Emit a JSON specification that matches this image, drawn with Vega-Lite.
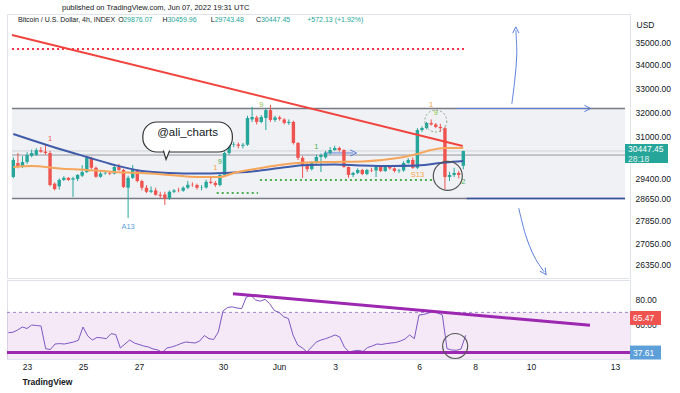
{
  "$schema": "https://vega.github.io/schema/vega-lite/v6.json",
  "background": "white",
  "padding": {"left": 5, "top": 3, "right": 0, "bottom": 0},
  "spacing": 0,
  "config": {"view": {"stroke": "#e0e3eb"}, "font": "Liberation Sans"},
  "datasets": {
    "candles": [
      {"t":"2022-05-22T08:00Z","o":29453,"h":30200,"l":29400,"c":30100,"r":53.6},
      {"t":"2022-05-22T12:00Z","o":29980,"h":30370,"l":29780,"c":29832,"r":54.0},
      {"t":"2022-05-22T16:00Z","o":29832,"h":30250,"l":29790,"c":30024,"r":55.8},
      {"t":"2022-05-22T20:00Z","o":30024,"h":30400,"l":29950,"c":30292,"r":58.2},
      {"t":"2022-05-23T00:00Z","o":30260,"h":30500,"l":30200,"c":30370,"r":57.0},
      {"t":"2022-05-23T04:00Z","o":30300,"h":30560,"l":30250,"c":30480,"r":59.8},
      {"t":"2022-05-23T08:00Z","o":30480,"h":30600,"l":30380,"c":30420,"r":59.4},
      {"t":"2022-05-23T12:00Z","o":30420,"h":30680,"l":30300,"c":30370,"r":59.0},
      {"t":"2022-05-23T16:00Z","o":30370,"h":30450,"l":29100,"c":29150,"r":40.7},
      {"t":"2022-05-23T20:00Z","o":29200,"h":29250,"l":28950,"c":29000,"r":40.0},
      {"t":"2022-05-24T00:00Z","o":29100,"h":29400,"l":28980,"c":29340,"r":44.5},
      {"t":"2022-05-24T04:00Z","o":29340,"h":29480,"l":29300,"c":29420,"r":44.8},
      {"t":"2022-05-24T08:00Z","o":29420,"h":29450,"l":29300,"c":29340,"r":44.5},
      {"t":"2022-05-24T12:00Z","o":29350,"h":29460,"l":28710,"c":29400,"r":45.3},
      {"t":"2022-05-24T16:00Z","o":29380,"h":29560,"l":29300,"c":29530,"r":46.1},
      {"t":"2022-05-24T20:00Z","o":29500,"h":29900,"l":29450,"c":29640,"r":47.5},
      {"t":"2022-05-25T00:00Z","o":29640,"h":30250,"l":29600,"c":30180,"r":58.2},
      {"t":"2022-05-25T04:00Z","o":30180,"h":30220,"l":29750,"c":29800,"r":51.0},
      {"t":"2022-05-25T08:00Z","o":29800,"h":29850,"l":29420,"c":29460,"r":47.7},
      {"t":"2022-05-25T12:00Z","o":29460,"h":29650,"l":29420,"c":29580,"r":49.8},
      {"t":"2022-05-25T16:00Z","o":29590,"h":29680,"l":29540,"c":29610,"r":49.4},
      {"t":"2022-05-25T20:00Z","o":29610,"h":29680,"l":29520,"c":29580,"r":48.8},
      {"t":"2022-05-26T00:00Z","o":29580,"h":29900,"l":29550,"c":29830,"r":52.8},
      {"t":"2022-05-26T04:00Z","o":29830,"h":29950,"l":29680,"c":29720,"r":52.2},
      {"t":"2022-05-26T08:00Z","o":29720,"h":29760,"l":29040,"c":29080,"r":41.3},
      {"t":"2022-05-26T12:00Z","o":29050,"h":29500,"l":27950,"c":29420,"r":44.5},
      {"t":"2022-05-26T16:00Z","o":29420,"h":29900,"l":29380,"c":29718,"r":47.7},
      {"t":"2022-05-26T20:00Z","o":29700,"h":29750,"l":29250,"c":29300,"r":45.3},
      {"t":"2022-05-27T00:00Z","o":29300,"h":29350,"l":28950,"c":29050,"r":44.1},
      {"t":"2022-05-27T04:00Z","o":29050,"h":29150,"l":28850,"c":28900,"r":42.9},
      {"t":"2022-05-27T08:00Z","o":28900,"h":29100,"l":28850,"c":28950,"r":42.1},
      {"t":"2022-05-27T12:00Z","o":28950,"h":29050,"l":28750,"c":28790,"r":40.5},
      {"t":"2022-05-27T16:00Z","o":28790,"h":28900,"l":28650,"c":28750,"r":39.7},
      {"t":"2022-05-27T20:00Z","o":28800,"h":28900,"l":28420,"c":28650,"r":37.7},
      {"t":"2022-05-28T00:00Z","o":28650,"h":28950,"l":28600,"c":28900,"r":41.3},
      {"t":"2022-05-28T04:00Z","o":28900,"h":29000,"l":28850,"c":28950,"r":42.1},
      {"t":"2022-05-28T08:00Z","o":28950,"h":29050,"l":28880,"c":28940,"r":43.3},
      {"t":"2022-05-28T12:00Z","o":28940,"h":29100,"l":28900,"c":29050,"r":44.9},
      {"t":"2022-05-28T16:00Z","o":29050,"h":29300,"l":29000,"c":29160,"r":46.1},
      {"t":"2022-05-28T20:00Z","o":29160,"h":29250,"l":29080,"c":29150,"r":45.7},
      {"t":"2022-05-29T00:00Z","o":29150,"h":29200,"l":28980,"c":29050,"r":45.3},
      {"t":"2022-05-29T04:00Z","o":29050,"h":29150,"l":28950,"c":29060,"r":46.9},
      {"t":"2022-05-29T08:00Z","o":29060,"h":29350,"l":29020,"c":29270,"r":51.3},
      {"t":"2022-05-29T12:00Z","o":29270,"h":29420,"l":29180,"c":29230,"r":48.8},
      {"t":"2022-05-29T16:00Z","o":29230,"h":29300,"l":29080,"c":29150,"r":48.1},
      {"t":"2022-05-29T20:00Z","o":29150,"h":29600,"l":29100,"c":29530,"r":54.2},
      {"t":"2022-05-30T00:00Z","o":29530,"h":30420,"l":29480,"c":30370,"r":71.1},
      {"t":"2022-05-30T04:00Z","o":30370,"h":30760,"l":30300,"c":30680,"r":74.0},
      {"t":"2022-05-30T08:00Z","o":30680,"h":30800,"l":30600,"c":30700,"r":74.4},
      {"t":"2022-05-30T12:00Z","o":30700,"h":30780,"l":30550,"c":30650,"r":73.5},
      {"t":"2022-05-30T16:00Z","o":30650,"h":30760,"l":30550,"c":30690,"r":73.0},
      {"t":"2022-05-30T20:00Z","o":30690,"h":31850,"l":30650,"c":31760,"r":82.4},
      {"t":"2022-05-31T00:00Z","o":31700,"h":32220,"l":31600,"c":31800,"r":83.5},
      {"t":"2022-05-31T04:00Z","o":31780,"h":31850,"l":31500,"c":31600,"r":80.0},
      {"t":"2022-05-31T08:00Z","o":31600,"h":31880,"l":31550,"c":31800,"r":79.0},
      {"t":"2022-05-31T12:00Z","o":31760,"h":32150,"l":31275,"c":32080,"r":80.5},
      {"t":"2022-05-31T16:00Z","o":32080,"h":32300,"l":31600,"c":31680,"r":77.0},
      {"t":"2022-05-31T20:00Z","o":31680,"h":31850,"l":31600,"c":31780,"r":71.5},
      {"t":"2022-06-01T00:00Z","o":31780,"h":31850,"l":31650,"c":31720,"r":70.0},
      {"t":"2022-06-01T04:00Z","o":31700,"h":31750,"l":31500,"c":31560,"r":66.5},
      {"t":"2022-06-01T08:00Z","o":31560,"h":31700,"l":31480,"c":31600,"r":65.0},
      {"t":"2022-06-01T12:00Z","o":31600,"h":31650,"l":30700,"c":30760,"r":51.8},
      {"t":"2022-06-01T16:00Z","o":30760,"h":30800,"l":30100,"c":30180,"r":43.7},
      {"t":"2022-06-01T20:00Z","o":30180,"h":30250,"l":29420,"c":29900,"r":41.3},
      {"t":"2022-06-02T00:00Z","o":29900,"h":30000,"l":29650,"c":29750,"r":38.1},
      {"t":"2022-06-02T04:00Z","o":29750,"h":30050,"l":29700,"c":29985,"r":42.1},
      {"t":"2022-06-02T08:00Z","o":29985,"h":30300,"l":29950,"c":30215,"r":46.1},
      {"t":"2022-06-02T12:00Z","o":30215,"h":30350,"l":29640,"c":30292,"r":47.7},
      {"t":"2022-06-02T16:00Z","o":30200,"h":30450,"l":30150,"c":30370,"r":48.8},
      {"t":"2022-06-02T20:00Z","o":30370,"h":30600,"l":30300,"c":30486,"r":50.2},
      {"t":"2022-06-03T00:00Z","o":30486,"h":30650,"l":30450,"c":30564,"r":51.8},
      {"t":"2022-06-03T04:00Z","o":30564,"h":30620,"l":30420,"c":30486,"r":50.2},
      {"t":"2022-06-03T08:00Z","o":30486,"h":30520,"l":29800,"c":29832,"r":42.1},
      {"t":"2022-06-03T12:00Z","o":29832,"h":29850,"l":29420,"c":29529,"r":38.1},
      {"t":"2022-06-03T16:00Z","o":29529,"h":29650,"l":29450,"c":29604,"r":38.9},
      {"t":"2022-06-03T20:00Z","o":29604,"h":29780,"l":29560,"c":29718,"r":39.4},
      {"t":"2022-06-04T00:00Z","o":29718,"h":29760,"l":29520,"c":29566,"r":38.5},
      {"t":"2022-06-04T04:00Z","o":29566,"h":29760,"l":29520,"c":29718,"r":41.7},
      {"t":"2022-06-04T08:00Z","o":29718,"h":29800,"l":29640,"c":29700,"r":42.9},
      {"t":"2022-06-04T12:00Z","o":29700,"h":29900,"l":29450,"c":29832,"r":44.5},
      {"t":"2022-06-04T16:00Z","o":29832,"h":29880,"l":29640,"c":29680,"r":44.1},
      {"t":"2022-06-04T20:00Z","o":29680,"h":29880,"l":29640,"c":29832,"r":44.8},
      {"t":"2022-06-05T00:00Z","o":29832,"h":29880,"l":29720,"c":29780,"r":45.3},
      {"t":"2022-06-05T04:00Z","o":29780,"h":29820,"l":29620,"c":29680,"r":45.7},
      {"t":"2022-06-05T08:00Z","o":29680,"h":29760,"l":29600,"c":29700,"r":46.9},
      {"t":"2022-06-05T12:00Z","o":29700,"h":30050,"l":29650,"c":29985,"r":48.5},
      {"t":"2022-06-05T16:00Z","o":29985,"h":30170,"l":29950,"c":30100,"r":51.8},
      {"t":"2022-06-05T20:00Z","o":30100,"h":30200,"l":29760,"c":29800,"r":48.8},
      {"t":"2022-06-06T00:00Z","o":29800,"h":31350,"l":29750,"c":31275,"r":67.9},
      {"t":"2022-06-06T04:00Z","o":31275,"h":31420,"l":31200,"c":31356,"r":68.3},
      {"t":"2022-06-06T08:00Z","o":31356,"h":31600,"l":31300,"c":31557,"r":69.5},
      {"t":"2022-06-06T12:00Z","o":31557,"h":31700,"l":31450,"c":31500,"r":70.5},
      {"t":"2022-06-06T16:00Z","o":31500,"h":31550,"l":31350,"c":31400,"r":69.5},
      {"t":"2022-06-06T20:00Z","o":31400,"h":31520,"l":31195,"c":31350,"r":67.9},
      {"t":"2022-06-07T00:00Z","o":31350,"h":31400,"l":29000,"c":29453,"r":40.7},
      {"t":"2022-06-07T04:00Z","o":29453,"h":29650,"l":29300,"c":29529,"r":39.7},
      {"t":"2022-06-07T08:00Z","o":29529,"h":29800,"l":29450,"c":29604,"r":39.4},
      {"t":"2022-06-07T12:00Z","o":29604,"h":29680,"l":29400,"c":29529,"r":40.5},
      {"t":"2022-06-07T16:00Z","o":29876.07,"h":30459.96,"l":29743.48,"c":30447.45,"r":51.5}
    ],
    "ma1": [
      {"t":"2022-05-22T08:00Z","p":31116},{"t":"2022-05-23T16:00Z","p":30643},{"t":"2022-05-25T00:00Z","p":30215},
      {"t":"2022-05-26T00:00Z","p":29908},{"t":"2022-05-27T00:00Z","p":29679},{"t":"2022-05-28T00:00Z","p":29604},
      {"t":"2022-05-29T00:00Z","p":29584},{"t":"2022-05-30T00:00Z","p":29604},{"t":"2022-05-31T00:00Z","p":29660},
      {"t":"2022-06-01T00:00Z","p":29794},{"t":"2022-06-02T00:00Z","p":29908},{"t":"2022-06-03T00:00Z","p":29926},
      {"t":"2022-06-04T00:00Z","p":29888},{"t":"2022-06-05T00:00Z","p":29869},{"t":"2022-06-06T00:00Z","p":29888},
      {"t":"2022-06-07T00:00Z","p":30003},{"t":"2022-06-07T16:00Z","p":30060}
    ],
    "ma2": [
      {"t":"2022-05-22T08:00Z","p":29832},{"t":"2022-05-23T00:00Z","p":29869},{"t":"2022-05-24T00:00Z","p":29774},
      {"t":"2022-05-25T00:00Z","p":29718},{"t":"2022-05-26T00:00Z","p":29642},{"t":"2022-05-27T00:00Z","p":29604},
      {"t":"2022-05-28T00:00Z","p":29529},{"t":"2022-05-29T00:00Z","p":29453},{"t":"2022-05-29T20:00Z","p":29453},
      {"t":"2022-05-30T08:00Z","p":29604},{"t":"2022-05-31T00:00Z","p":29736},{"t":"2022-06-01T00:00Z","p":29908},
      {"t":"2022-06-02T00:00Z","p":30003},{"t":"2022-06-03T00:00Z","p":30024},{"t":"2022-06-04T00:00Z","p":30043},
      {"t":"2022-06-05T00:00Z","p":30137},{"t":"2022-06-05T12:00Z","p":30215},{"t":"2022-06-06T00:00Z","p":30331},
      {"t":"2022-06-06T12:00Z","p":30486},{"t":"2022-06-07T00:00Z","p":30564},{"t":"2022-06-07T16:00Z","p":30564}
    ],
    "segs": [
      {"id":"box","t":"2022-05-22T06:51:26Z","t2":1655124686000,"p":32150,"p2":32150},
      {"id":"box","t":"2022-05-22T06:51:26Z","t2":1655124686000,"p":28650,"p2":28650},
      {"id":"mid","t":"2022-05-22T06:51:26Z","t2":1655124686000,"p":30290,"p2":30290},
      {"id":"last","t":"2022-05-22T06:51:26Z","t2":1655124686000,"p":30447.45,"p2":30447.45},
      {"id":"boxBlue","t":"2022-06-07T18:50Z","t2":1655124686000,"p":28650,"p2":28650},
      {"id":"arrow","t":"2022-06-07T10:15Z","t2":1655007300000,"p":32150,"p2":32150},
      {"id":"arrow","t":"2022-06-02T14:30Z","t2":1654272900000,"p":30370,"p2":30370},
      {"id":"res","t":"2022-05-22T06:51:26Z","t2":1654624800000,"p":34688,"p2":34688},
      {"id":"tdst","t":"2022-05-29T17:10Z","t2":1653973800000,"p":28856,"p2":28856},
      {"id":"tdst","t":"2022-05-31T06:50Z","t2":1654522800000,"p":29341,"p2":29341},
      {"id":"trend","t":"2022-05-22T06:51:26Z","t2":1654615800000,"p":35315,"p2":30643}
    ],
    "boxfill": [
      {"t":"2022-05-22T06:51:26Z","p":32150,"p2":28650},
      {"t":"2022-06-13T12:51:26Z","p":32150,"p2":28650}
    ],
    "curves": [
      {"id":"up","o":1,"t":"2022-06-09T10:15Z","p":32332},
      {"id":"up","o":2,"t":"2022-06-09T12:50Z","p":33340},
      {"id":"up","o":3,"t":"2022-06-09T14:35Z","p":34423},
      {"id":"up","o":4,"t":"2022-06-09T13:45Z","p":35541},
      {"id":"down","o":1,"t":"2022-06-09T16:15Z","p":28308},
      {"id":"down","o":2,"t":"2022-06-09T22:15Z","p":27347},
      {"id":"down","o":3,"t":"2022-06-10T06:00Z","p":26589},
      {"id":"down","o":4,"t":"2022-06-10T14:35Z","p":26083}
    ],
    "heads": [
      {"dir":"up","t":"2022-06-09T13:45Z","p":35541},
      {"dir":"right","t":"2022-06-12T04:15Z","p":32150},
      {"dir":"right","t":"2022-06-03T16:15Z","p":30370},
      {"dir":"down","t":"2022-06-10T14:35Z","p":26083}
    ],
    "notes": [
      {"t":"2022-05-23T16:00Z","p":30900,"txt":"1","k":"sell"},
      {"t":"2022-05-26T12:00Z","p":27630,"txt":"A13","k":"agg"},
      {"t":"2022-05-29T16:00Z","p":29790,"txt":"1","k":"cd"},
      {"t":"2022-05-29T20:00Z","p":30024,"txt":"9","k":"buy"},
      {"t":"2022-05-31T08:00Z","p":32292,"txt":"9","k":"buy9"},
      {"t":"2022-06-02T08:00Z","p":30604,"txt":"1","k":"buy"},
      {"t":"2022-06-06T00:00Z","p":29529,"txt":"S13","k":"cd"},
      {"t":"2022-06-06T12:00Z","p":32292,"txt":"1","k":"cd"},
      {"t":"2022-06-06T16:00Z","p":31963,"txt":"9","k":"buy9"},
      {"t":"2022-06-07T16:00Z","p":29266,"txt":"2","k":"buy"}
    ],
    "hdr": [
      {"t":"2022-05-22T12:00Z","p":35998,"txt":"Bitcoin / U.S. Dollar, 4h, INDEX","k":"label"},
      {"t":"2022-05-26T03:30Z","p":35998,"txt":"O","k":"label"},
      {"t":"2022-05-26T07:45Z","p":35998,"txt":"29876.07","k":"value"},
      {"t":"2022-05-27T18:00Z","p":35998,"txt":"H","k":"label"},
      {"t":"2022-05-27T22:15Z","p":35998,"txt":"30459.96","k":"value"},
      {"t":"2022-05-29T12:00Z","p":35998,"txt":"L","k":"label"},
      {"t":"2022-05-29T15:25Z","p":35998,"txt":"29743.48","k":"value"},
      {"t":"2022-05-31T03:25Z","p":35998,"txt":"C","k":"label"},
      {"t":"2022-05-31T07:45Z","p":35998,"txt":"30447.45","k":"value"},
      {"t":"2022-06-02T00:00Z","p":35998,"txt":"+572.13 (+1.92%)","k":"value"}
    ],
    "circ": [
      {"k":"dash","t":"2022-06-06T16:00Z","p":31636},
      {"k":"solid","t":"2022-06-07T02:30Z","p":29491}
    ],
    "bub": [
      {"t":"2022-05-27T00:50Z","t2":1653893400000,"p":31597,"p2":30408}
    ],
    "bubtail": [
      {"t":"2022-05-27T22:15Z","p":30292}
    ],
    "bubtext": [
      {"t":"2022-05-28T15:50Z","p":31156,"txt":"@ali_charts"}
    ],
    "pricetag": [
      {"t":"2022-06-13T12:51:26Z","p":30447.45,"a":"30447.45","b":"28:18"}
    ],
    "band": [
      {"t":"2022-05-22T06:51:26Z","r":70,"r2":30},
      {"t":"2022-06-13T12:51:26Z","r":70,"r2":30}
    ],
    "rsilines": [
      {"id":"upper","t":"2022-05-22T06:51:26Z","t2":1655124686000,"r":70,"r2":70},
      {"id":"support","t":"2022-05-22T06:51:26Z","t2":1655124686000,"r":37.61,"r2":37.61},
      {"id":"diag","t":"2022-05-30T08:34Z","t2":1655001240000,"r":85.1,"r2":59.6}
    ],
    "rsicirc": [
      {"t":"2022-06-07T07:00Z","r":42.9}
    ],
    "rsitags": [
      {"k":"line","t":"2022-06-13T12:51:26Z","r":65.47,"txt":"65.47"},
      {"k":"support","t":"2022-06-13T12:51:26Z","r":37.61,"txt":"37.61"}
    ]
  },
  "vconcat": [
    {
      "width": 623,
      "height": 264,
      "title": {"text": "published on TradingView.com, Jun 07, 2022 19:31 UTC", "anchor": "start", "dx": 55, "offset": 3, "fontSize": 7.5, "fontWeight": "normal", "color": "#131722"},
      "layer": [
        {"data": {"name": "candles"}, "mark": {"type": "rule", "strokeWidth": 1},
         "encoding": {
           "x": {"field": "t", "type": "temporal",
                 "scale": {"type": "utc", "nice": false, "domain": [1653202286000, 1655124686000]},
                 "axis": null},
           "y": {"field": "l", "type": "quantitative",
                 "scale": {"type": "log", "domain": [25883, 36276], "nice": false, "zero": false},
                 "axis": {"orient": "right", "values": [26350, 27050, 27850, 28650, 29400, 31000, 32000, 33000, 34000, 35000], "format": ".2f",
                          "title": "USD", "titleAngle": 0, "titleAlign": "left", "titleBaseline": "middle", "titleX": 6, "titleY": 10, "titleFontSize": 8.5, "titleFontWeight": "normal", "titleColor": "#131722",
                          "labelFontSize": 8.5, "labelColor": "#131722", "labelPadding": 5, "ticks": false, "domain": false, "grid": false, "minExtent": 45, "maxExtent": 45}},
           "y2": {"field": "h"},
           "color": {"value": "#00000000"}}},
        {"data": {"name": "boxfill"}, "mark": {"type": "area", "color": "#f0f1f4"},
         "encoding": {"x": {"field": "t", "type": "temporal"}, "y": {"field": "p", "type": "quantitative"}, "y2": {"field": "p2"}}},
        {"data": {"name": "segs"}, "transform": [{"filter": "datum.id == 'mid'"}],
         "mark": {"type": "rule", "color": "#9598a1", "strokeWidth": 1},
         "encoding": {"x": {"field": "t", "type": "temporal"}, "x2": {"field": "t2"}, "y": {"field": "p", "type": "quantitative"}, "y2": {"field": "p2"}}},
        {"data": {"name": "segs"}, "transform": [{"filter": "datum.id == 'last'"}],
         "mark": {"type": "rule", "color": "#cfd2d8", "strokeWidth": 1},
         "encoding": {"x": {"field": "t", "type": "temporal"}, "x2": {"field": "t2"}, "y": {"field": "p", "type": "quantitative"}, "y2": {"field": "p2"}}},
        {"data": {"name": "segs"}, "transform": [{"filter": "datum.id == 'box'"}],
         "mark": {"type": "rule", "color": "#787b86", "strokeWidth": 1.5},
         "encoding": {"x": {"field": "t", "type": "temporal"}, "x2": {"field": "t2"}, "y": {"field": "p", "type": "quantitative"}, "y2": {"field": "p2"}}},
        {"data": {"name": "segs"}, "transform": [{"filter": "datum.id == 'boxBlue'"}],
         "mark": {"type": "rule", "color": "#33509e", "strokeWidth": 1.5},
         "encoding": {"x": {"field": "t", "type": "temporal"}, "x2": {"field": "t2"}, "y": {"field": "p", "type": "quantitative"}, "y2": {"field": "p2"}}},
        {"data": {"name": "segs"}, "transform": [{"filter": "datum.id == 'arrow'"}],
         "mark": {"type": "rule", "color": "#5b7fdb", "strokeWidth": 1},
         "encoding": {"x": {"field": "t", "type": "temporal"}, "x2": {"field": "t2"}, "y": {"field": "p", "type": "quantitative"}, "y2": {"field": "p2"}}},
        {"data": {"name": "segs"}, "transform": [{"filter": "datum.id == 'res'"}],
         "mark": {"type": "rule", "color": "#f23645", "strokeWidth": 2, "strokeDash": [2, 3]},
         "encoding": {"x": {"field": "t", "type": "temporal"}, "x2": {"field": "t2"}, "y": {"field": "p", "type": "quantitative"}, "y2": {"field": "p2"}}},
        {"data": {"name": "segs"}, "transform": [{"filter": "datum.id == 'tdst'"}],
         "mark": {"type": "rule", "color": "#4caf50", "strokeWidth": 2, "strokeDash": [2, 3]},
         "encoding": {"x": {"field": "t", "type": "temporal"}, "x2": {"field": "t2"}, "y": {"field": "p", "type": "quantitative"}, "y2": {"field": "p2"}}},
        {"data": {"name": "candles"}, "mark": {"type": "rule", "strokeWidth": 1},
         "encoding": {"x": {"field": "t", "type": "temporal"}, "y": {"field": "l", "type": "quantitative"}, "y2": {"field": "h"},
           "color": {"condition": {"test": "datum.c >= datum.o", "value": "#26a69a"}, "value": "#ef5350"}}},
        {"data": {"name": "candles"}, "mark": {"type": "bar", "width": 3.4},
         "encoding": {"x": {"field": "t", "type": "temporal"}, "y": {"field": "o", "type": "quantitative"}, "y2": {"field": "c"},
           "color": {"condition": {"test": "datum.c >= datum.o", "value": "#26a69a"}, "value": "#ef5350"}}},
        {"data": {"name": "ma1"}, "mark": {"type": "line", "color": "#3f5ba9", "strokeWidth": 2, "interpolate": "monotone"},
         "encoding": {"x": {"field": "t", "type": "temporal"}, "y": {"field": "p", "type": "quantitative"}}},
        {"data": {"name": "ma2"}, "mark": {"type": "line", "color": "#f5a65b", "strokeWidth": 2, "interpolate": "monotone"},
         "encoding": {"x": {"field": "t", "type": "temporal"}, "y": {"field": "p", "type": "quantitative"}}},
        {"data": {"name": "segs"}, "transform": [{"filter": "datum.id == 'trend'"}],
         "mark": {"type": "rule", "color": "#f0453f", "strokeWidth": 2},
         "encoding": {"x": {"field": "t", "type": "temporal"}, "x2": {"field": "t2"}, "y": {"field": "p", "type": "quantitative"}, "y2": {"field": "p2"}}},
        {"data": {"name": "notes"},
         "mark": {"type": "text", "fontSize": 7.5},
         "encoding": {"x": {"field": "t", "type": "temporal"}, "y": {"field": "p", "type": "quantitative"}, "text": {"field": "txt", "type": "nominal"},
           "color": {"field": "k", "type": "nominal", "scale": {"domain": ["sell", "agg", "cd", "buy", "buy9", "label", "value"], "range": ["#ef5350", "#5d9fd8", "#f5a340", "#4caf50", "#8bc34a", "#131722", "#26a69a"]}, "legend": null}}},
        {"data": {"name": "hdr"},
         "mark": {"type": "text", "fontSize": 7, "align": "left"},
         "encoding": {"x": {"field": "t", "type": "temporal"}, "y": {"field": "p", "type": "quantitative"}, "text": {"field": "txt", "type": "nominal"},
           "color": {"field": "k", "type": "nominal", "legend": null}}},
        {"data": {"name": "circ"}, "transform": [{"filter": "datum.k == 'dash'"}],
         "mark": {"type": "point", "shape": "circle", "filled": false, "size": 484, "stroke": "#8aa88a", "strokeWidth": 1, "strokeDash": [2, 2], "opacity": 1},
         "encoding": {"x": {"field": "t", "type": "temporal"}, "y": {"field": "p", "type": "quantitative"}}},
        {"data": {"name": "circ"}, "transform": [{"filter": "datum.k == 'solid'"}],
         "mark": {"type": "point", "shape": "circle", "filled": false, "size": 841, "stroke": "#555555", "strokeWidth": 1.2, "opacity": 1},
         "encoding": {"x": {"field": "t", "type": "temporal"}, "y": {"field": "p", "type": "quantitative"}}},
        {"data": {"name": "bub"},
         "mark": {"type": "rect", "fill": "white", "stroke": "#333333", "strokeWidth": 1.2, "cornerRadius": 14},
         "encoding": {"x": {"field": "t", "type": "temporal"}, "x2": {"field": "t2"}, "y": {"field": "p", "type": "quantitative"}, "y2": {"field": "p2"}}},
        {"data": {"name": "bubtail"},
         "mark": {"type": "point", "shape": "M -0.9 -1 L -0.3 1 L 0.5 -1", "filled": true, "fill": "white", "stroke": "#333333", "strokeWidth": 1.2, "size": 81, "opacity": 1},
         "encoding": {"x": {"field": "t", "type": "temporal"}, "y": {"field": "p", "type": "quantitative"}}},
        {"data": {"name": "bubtext"},
         "mark": {"type": "text", "fontSize": 11.5, "color": "#131722"},
         "encoding": {"x": {"field": "t", "type": "temporal"}, "y": {"field": "p", "type": "quantitative"}, "text": {"field": "txt", "type": "nominal"}}},
        {"data": {"name": "curves"}, "mark": {"type": "line", "color": "#5b7fdb", "strokeWidth": 1, "interpolate": "cardinal"},
         "encoding": {"x": {"field": "t", "type": "temporal"}, "y": {"field": "p", "type": "quantitative"}, "detail": {"field": "id", "type": "nominal"}, "order": {"field": "o", "type": "quantitative"}}},
        {"data": {"name": "heads"}, "transform": [{"filter": "datum.dir == 'right'"}],
         "mark": {"type": "point", "shape": "M -1 -1 L 1 0 L -1 1", "filled": false, "stroke": "#5b7fdb", "strokeWidth": 1, "size": 40, "opacity": 1, "angle": 0},
         "encoding": {"x": {"field": "t", "type": "temporal"}, "y": {"field": "p", "type": "quantitative"}}},
        {"data": {"name": "heads"}, "transform": [{"filter": "datum.dir == 'up'"}],
         "mark": {"type": "point", "shape": "M -1 -1 L 1 0 L -1 1", "filled": false, "stroke": "#5b7fdb", "strokeWidth": 1, "size": 40, "opacity": 1, "angle": 270},
         "encoding": {"x": {"field": "t", "type": "temporal"}, "y": {"field": "p", "type": "quantitative"}}},
        {"data": {"name": "heads"}, "transform": [{"filter": "datum.dir == 'down'"}],
         "mark": {"type": "point", "shape": "M -1 -1 L 1 0 L -1 1", "filled": false, "stroke": "#5b7fdb", "strokeWidth": 1, "size": 40, "opacity": 1, "angle": 56},
         "encoding": {"x": {"field": "t", "type": "temporal"}, "y": {"field": "p", "type": "quantitative"}}},
        {"data": {"name": "pricetag"}, "mark": {"type": "point", "shape": "M 0 -0.326 L 2 -0.326 L 2 0.558 L 0 0.558 Z", "filled": true, "color": "#26a69a", "size": 1849, "opacity": 1},
         "encoding": {"x": {"field": "t", "type": "temporal"}, "y": {"field": "p", "type": "quantitative"}}},
        {"data": {"name": "pricetag"}, "mark": {"type": "text", "color": "white", "fontSize": 8.5, "align": "left", "dx": 3, "dy": -2},
         "encoding": {"x": {"field": "t", "type": "temporal"}, "y": {"field": "p", "type": "quantitative"}, "text": {"field": "a", "type": "nominal"}}},
        {"data": {"name": "pricetag"}, "mark": {"type": "text", "color": "white", "fontSize": 8.5, "align": "left", "dx": 3, "dy": 8, "opacity": 0.85},
         "encoding": {"x": {"field": "t", "type": "temporal"}, "y": {"field": "p", "type": "quantitative"}, "text": {"field": "b", "type": "nominal"}}}
      ]
    },
    {
      "width": 623,
      "height": 79,
      "title": {"text": "TradingView", "orient": "bottom", "anchor": "start", "dx": 17, "offset": 7, "fontSize": 8.5, "fontWeight": "bold", "color": "#131722"},
      "layer": [
        {"data": {"name": "candles"}, "mark": {"type": "line", "color": "#7e57c2", "strokeWidth": 1, "opacity": 0},
         "encoding": {
           "x": {"field": "t", "type": "temporal",
                 "scale": {"type": "utc", "nice": false, "domain": [1653202286000, 1655124686000]},
                 "axis": {"values": [1653264000000, 1653436800000, 1653609600000, 1653868800000, 1654041600000, 1654214400000, 1654473600000, 1654646400000, 1654819200000, 1655078400000],
                          "labelExpr": "utcdate(datum.value) == 1 ? 'Jun' : '' + utcdate(datum.value)",
                          "labelFontSize": 8.5, "labelColor": "#131722", "labelPadding": 3, "ticks": false, "domain": false, "grid": false, "title": null, "labelFlush": false, "labelOverlap": false}},
           "y": {"field": "r", "type": "quantitative",
                 "scale": {"domain": [32.4, 96.1], "nice": false, "zero": false},
                 "axis": {"orient": "right", "values": [60, 80], "format": ".2f", "labelFontSize": 8.5, "labelColor": "#131722", "labelPadding": 5, "ticks": false, "domain": false, "grid": false, "title": null, "minExtent": 45, "maxExtent": 45}}}},
        {"data": {"name": "band"}, "mark": {"type": "area", "clip": true, "color": "#9c27b0", "opacity": 0.1},
         "encoding": {"x": {"field": "t", "type": "temporal"}, "y": {"field": "r", "type": "quantitative"}, "y2": {"field": "r2"}}},
        {"data": {"name": "rsilines"}, "transform": [{"filter": "datum.id == 'upper'"}],
         "mark": {"type": "rule", "color": "#9b84c9", "strokeDash": [3, 3], "strokeWidth": 1},
         "encoding": {"x": {"field": "t", "type": "temporal"}, "x2": {"field": "t2"}, "y": {"field": "r", "type": "quantitative"}, "y2": {"field": "r2"}}},
        {"data": {"name": "candles"}, "mark": {"type": "line", "color": "#7e57c2", "strokeWidth": 1},
         "encoding": {"x": {"field": "t", "type": "temporal"}, "y": {"field": "r", "type": "quantitative"}}},
        {"data": {"name": "rsilines"}, "transform": [{"filter": "datum.id != 'upper'"}],
         "mark": {"type": "rule", "color": "#9c27b0", "strokeWidth": 3},
         "encoding": {"x": {"field": "t", "type": "temporal"}, "x2": {"field": "t2"}, "y": {"field": "r", "type": "quantitative"}, "y2": {"field": "r2"}}},
        {"data": {"name": "rsicirc"}, "mark": {"type": "point", "shape": "circle", "filled": false, "size": 625, "stroke": "#555555", "strokeWidth": 1.2, "opacity": 1},
         "encoding": {"x": {"field": "t", "type": "temporal"}, "y": {"field": "r", "type": "quantitative"}}},
        {"data": {"name": "rsitags"}, "mark": {"type": "point", "shape": "M 0 -0.45 L 2 -0.45 L 2 0.45 L 0 0.45 Z", "filled": true, "size": 961, "opacity": 1},
         "encoding": {"x": {"field": "t", "type": "temporal"}, "y": {"field": "r", "type": "quantitative"},
           "color": {"field": "k", "type": "nominal", "scale": {"domain": ["line", "support"], "range": ["#131722", "#9c27b0"]}, "legend": null}}},
        {"data": {"name": "rsitags"}, "mark": {"type": "text", "color": "white", "fontSize": 8.5, "align": "left", "dx": 3},
         "encoding": {"x": {"field": "t", "type": "temporal"}, "y": {"field": "r", "type": "quantitative"}, "text": {"field": "txt", "type": "nominal"}}}
      ]
    }
  ]
}
